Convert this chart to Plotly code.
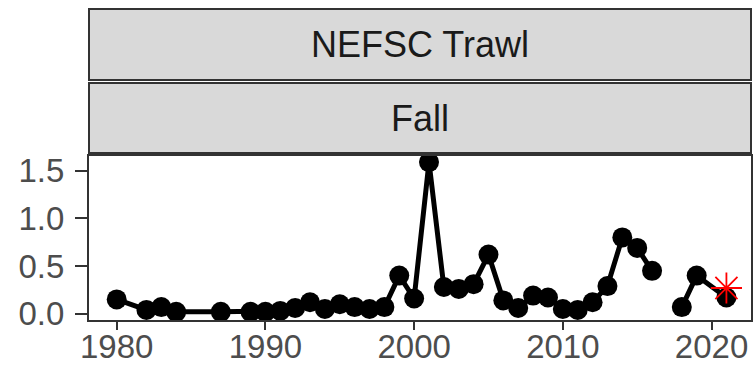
import plotly.graph_objects as go

years = [1980, 1982, 1983, 1984, 1987, 1989, 1990, 1991, 1992, 1993, 1994, 1995, 1996, 1997, 1998, 1999,
         2000, 2001, 2002, 2003, 2004, 2005, 2006, 2007, 2008, 2009, 2010, 2011, 2012, 2013, 2014, 2015,
         2016, 2017, 2018, 2019, 2021]
values = [0.15, 0.04, 0.07, 0.02, 0.02, 0.02, 0.02, 0.03, 0.06, 0.12, 0.05, 0.10, 0.07, 0.05, 0.07, 0.40,
          0.16, 1.59, 0.28, 0.26, 0.31, 0.62, 0.14, 0.06, 0.19, 0.17, 0.05, 0.04, 0.12, 0.29, 0.80, 0.69,
          0.45, None, 0.07, 0.40, 0.17]
ref_solid = 0.03
ref_dashed = 0.27
flag_year = [2021]
flag_value = [0.27]
x_ticks = [1980, 1990, 2000, 2010, 2020]
y_ticks = [0.0, 0.5, 1.0, 1.5]
y_tick_labels = ["0.0", "0.5", "1.0", "1.5"]
strip_top = "NEFSC Trawl"
strip_bottom = "Fall"
x_range = [1978.07, 2022.72]
y_range = [-0.076, 1.664]

fig = go.Figure()
fig.add_hline(y=ref_solid, line=dict(color="black", width=2))
fig.add_hline(y=ref_dashed, line=dict(color="black", width=2, dash="6px,5px"))
fig.add_trace(go.Scatter(x=years, y=values, mode="lines+markers", connectgaps=False,
                         line=dict(color="black", width=5),
                         marker=dict(color="black", size=20), showlegend=False))
fig.add_trace(go.Scatter(x=flag_year, y=flag_value, mode="markers",
                         marker=dict(symbol="asterisk-open", size=26, color="red",
                                     line=dict(color="red", width=1.8)), showlegend=False))
# empty trace to host the tick-only overlay axis
fig.add_trace(go.Scatter(x=[], y=[], xaxis="x2", yaxis="y", showlegend=False, hoverinfo="skip"))

axis_font = dict(family="Liberation Sans, Arial, sans-serif", size=33, color="#4D4D4D")
fig.update_layout(
    xaxis=dict(range=x_range, tickvals=x_ticks, ticks="", showgrid=False, zeroline=False,
               tickfont=axis_font, showline=False, ticklabelstandoff=3),
    xaxis2=dict(range=x_range, tickvals=x_ticks, ticks="outside", ticklen=8, tickwidth=2,
                tickcolor="#333333", showticklabels=False, showgrid=False, zeroline=False,
                overlaying="x", anchor="y", side="bottom", showline=False),
    yaxis=dict(range=y_range, tickvals=y_ticks, ticktext=y_tick_labels, ticks="outside",
               ticklen=12, tickwidth=2, tickcolor="#333333", showgrid=False, zeroline=False,
               tickfont=axis_font, showline=False, ticklabelstandoff=4),
)

top_m, bot_m = 155, 54
plot_h = 375 - top_m - bot_m
def py(pix):
    return (375 - bot_m - pix) / plot_h

shapes = [
    dict(type="rect", xref="paper", yref="paper", x0=0, x1=1, y0=0, y1=1,
         line=dict(color="#333333", width=2), fillcolor="rgba(0,0,0,0)", layer="above"),
]
strip_font = dict(family="Liberation Sans, Arial, sans-serif", size=36, color="#1A1A1A")
annotations = [
    dict(text=strip_top, xref="paper", yref="paper", x=0.5, y=py(44.5), showarrow=False,
         font=strip_font, xanchor="center", yanchor="middle", width=660, height=69,
         bgcolor="#D9D9D9", bordercolor="#333333", borderwidth=2, borderpad=0),
    dict(text=strip_bottom, xref="paper", yref="paper", x=0.5, y=py(118), showarrow=False,
         font=strip_font, xanchor="center", yanchor="middle", width=660, height=68,
         bgcolor="#D9D9D9", bordercolor="#333333", borderwidth=2, borderpad=0),
]
fig.update_layout(width=754, height=375, margin=dict(l=88, r=2, t=top_m, b=bot_m),
                  plot_bgcolor="white", paper_bgcolor="white",
                  shapes=shapes, annotations=annotations, showlegend=False)
fig.write_html("out.html")
